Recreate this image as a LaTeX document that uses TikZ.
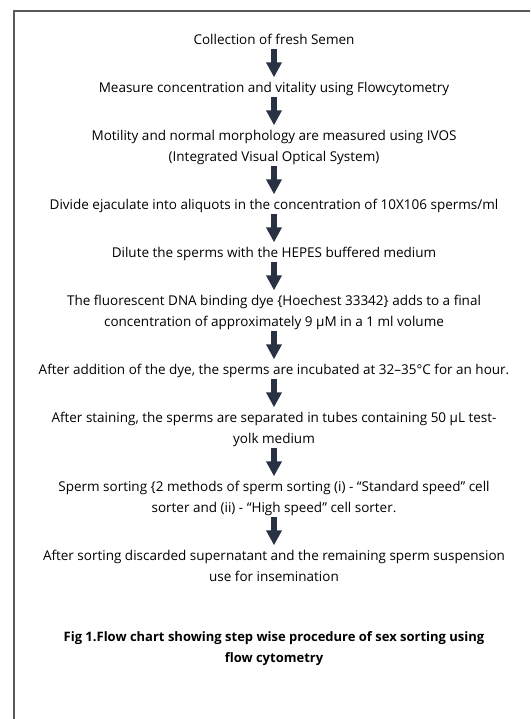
\documentclass[tikz,border=0pt]{standalone}
\usepackage{fontspec}
\setmainfont{Open Sans}
\usepackage{xcolor}
\usepackage{tikz}
\usetikzlibrary{arrows.meta,positioning}

\definecolor{arrowblue}{RGB}{40,50,66}
\definecolor{framegray}{RGB}{90,90,90}

\begin{document}
\begin{tikzpicture}[
  x=1pt, y=1pt,
  node distance=34.6pt,
  stepbox/.style={align=center, inner sep=0pt, text height=10pt, text depth=3pt,
    font=\fontsize{13.5}{21}\selectfont},
  twoline/.style={stepbox, text height=31pt},
  caption/.style={twoline, font=\fontsize{13}{21}\selectfont\bfseries},
  arr/.style={-{Triangle[width=15pt,length=15pt]}, line width=5.5pt, arrowblue,
    shorten <=1.5pt, shorten >=5pt}
]
  \useasboundingbox (0,0) rectangle (530,-719);
  \clip (0,0) rectangle (530,-719);
  \draw[framegray, line width=1.3pt] (14,-740) |- (550,-11);

  \node[stepbox] (collect) at (274,-41) {Collection of fresh Semen};
  \node[stepbox, below=of collect] (measure) {Measure concentration and vitality using Flowcytometry};
  \node[twoline, below=of measure] (motility) {Motility and normal morphology are measured using IVOS\\(Integrated Visual Optical System)};
  \node[stepbox, below=of motility] (divide) {Divide ejaculate into aliquots in the concentration of 10X106 sperms/ml};
  \node[stepbox, below=of divide] (dilute) {Dilute the sperms with the HEPES buffered medium};
  \node[twoline, below=of dilute] (dye) {The fluorescent DNA binding dye \{Hoechest 33342\} adds to a final\\concentration of approximately 9 µM in a 1 ml volume};
  \node[stepbox, below=of dye] (incubate) {After addition of the dye, the sperms are incubated at 32–35°C for an hour.};
  \node[twoline, below=of incubate] (stain) {After staining, the sperms are separated in tubes containing 50 µL test-\\yolk medium};
  \node[twoline, below=of stain] (sorting) {Sperm sorting \{2 methods of sperm sorting (i) - “Standard speed” cell\\sorter and (ii) - “High speed” cell sorter.};
  \node[twoline, below=of sorting] (discard) {After sorting discarded supernatant and the remaining sperm suspension\\use for insemination};
  \node[caption, below=47pt of discard] (figcap) {Fig 1.Flow chart showing step wise procedure of sex sorting using\\flow cytometry};

  \draw[arr] (collect) -- (measure);
  \draw[arr] (measure) -- (motility);
  \draw[arr] (motility) -- (divide);
  \draw[arr] (divide) -- (dilute);
  \draw[arr] (dilute) -- (dye);
  \draw[arr] (dye) -- (incubate);
  \draw[arr] (incubate) -- (stain);
  \draw[arr] (stain) -- (sorting);
  \draw[arr] (sorting) -- (discard);
\end{tikzpicture}
\end{document}
